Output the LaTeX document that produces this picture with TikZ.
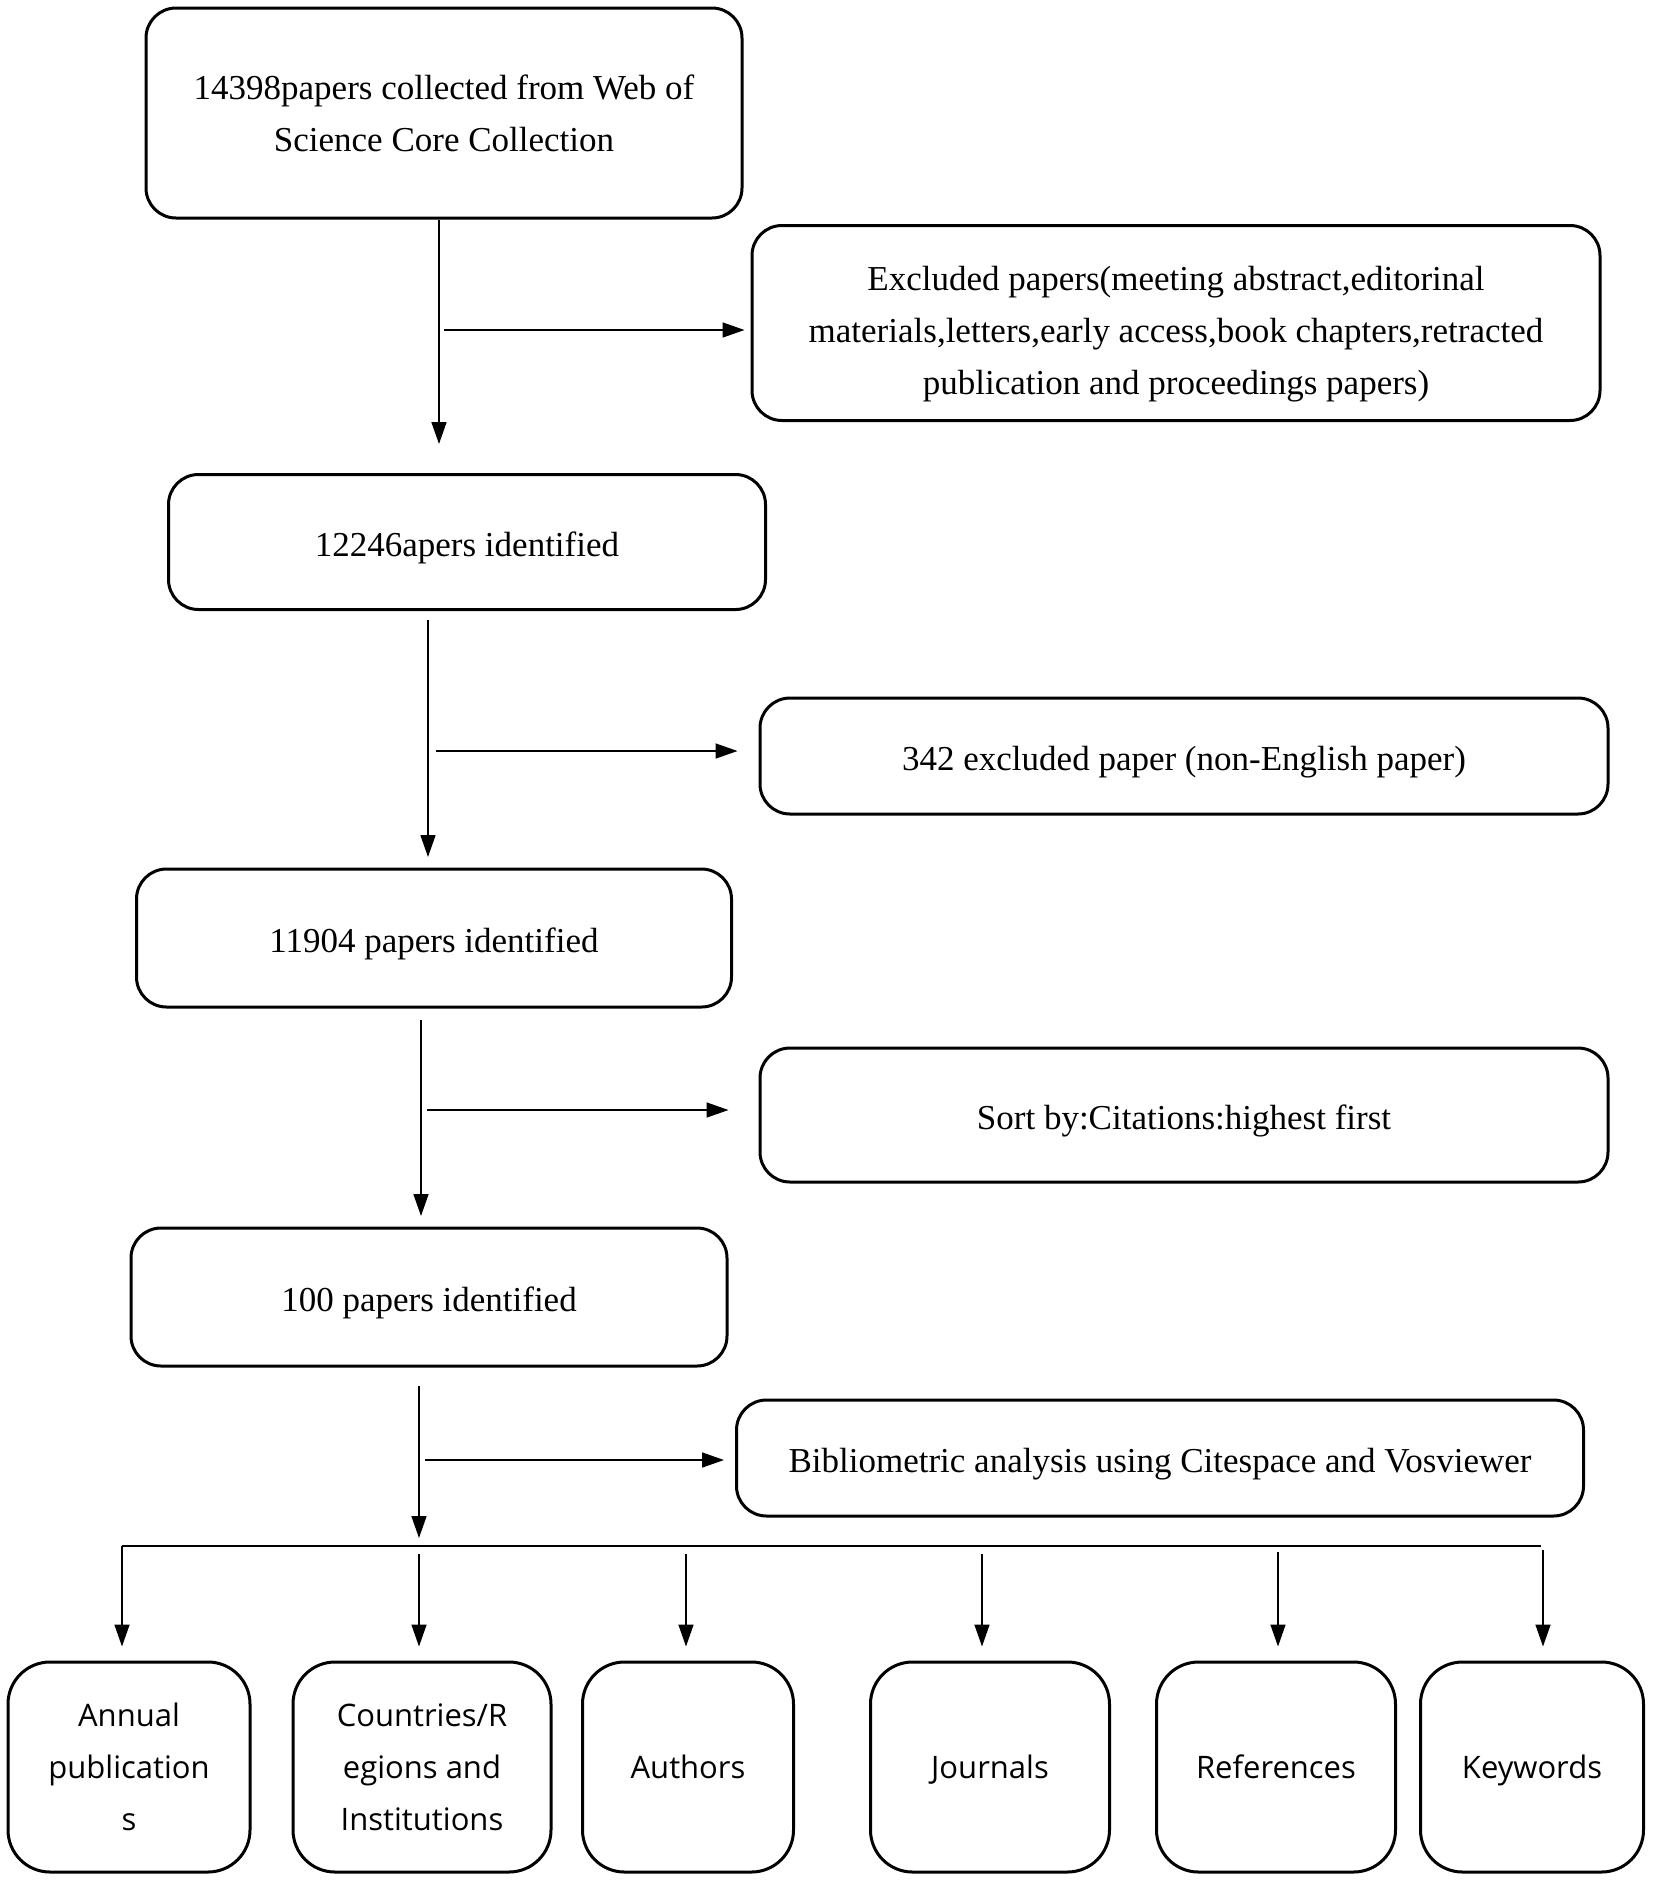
\documentclass[tikz,border=0pt]{standalone}
\usepackage{fontspec}
\setmainfont{Liberation Serif}
\newfontfamily\boxsans{Open Sans}
\usetikzlibrary{arrows.meta}

\tikzset{
  stepbox/.style={draw, line width=3pt, rounded corners=30pt, align=center, inner sep=0pt,
    font=\fontsize{35}{52}\selectfont},
  linebox/.style={stepbox, text height=36pt, text depth=8pt},
  itembox/.style={draw, line width=3pt, rounded corners=42pt, align=center, inner sep=0pt,
    minimum height=210pt, font=\boxsans\fontsize{31}{52}\selectfont},
  lineitem/.style={itembox, text height=26pt, text depth=4pt},
  flow/.style={line width=1.6pt, -{Triangle[length=22pt,width=15pt]}},
}

\begin{document}
\begin{tikzpicture}[x=1pt,y=1pt,yscale=-1,xscale=1]
      \useasboundingbox (0,0) rectangle (1654,1883);

      % Step boxes
      \node (collected) at (444,113) [stepbox, minimum width=596pt, minimum height=210pt] {14398papers collected from Web of\\Science Core Collection};
      \node (excluded) at (1176,323) [stepbox, minimum width=848pt, minimum height=195pt] {\rule{0pt}{46pt}Excluded papers(meeting abstract,editorinal\\materials,letters,early access,book chapters,retracted\\publication and proceedings papers)};
      \node (identA) at (467,542) [linebox, minimum width=597pt, minimum height=135pt] {12246apers identified};
      \node (nonenglish) at (1184,756) [linebox, minimum width=848pt, minimum height=116pt] {342 excluded paper (non-English paper)};
      \node (identB) at (434,938) [linebox, minimum width=595pt, minimum height=138pt] {11904 papers identified};
      \node (sortby) at (1184,1115) [linebox, minimum width=848pt, minimum height=134pt] {Sort by:Citations:highest first};
      \node (identC) at (429,1297) [linebox, minimum width=596pt, minimum height=138pt] {100 papers identified};
      \node (biblio) at (1160,1458) [linebox, minimum width=847pt, minimum height=116pt] {Bibliometric analysis using Citespace and Vosviewer};

      % Result boxes
      \node (annual) at (129,1767) [itembox, minimum width=242pt] {Annual\\publication\\s};
      \node (countries) at (422,1767) [itembox, minimum width=258pt] {Countries/R\\egions and\\Institutions};
      \node (authors) at (688,1767) [lineitem, minimum width=211pt] {Authors};
      \node (journals) at (990,1767) [lineitem, minimum width=239pt] {Journals};
      \node (references) at (1276,1767) [lineitem, minimum width=239pt] {References};
      \node (keywords) at (1532,1767) [lineitem, minimum width=223pt] {Keywords};

      % Points on the main line
      \coordinate (endA) at (439,444);
      \coordinate (sideA) at (444,330);
      \coordinate (endB) at (428,857);
      \coordinate (sideB) at (436,751);
      \coordinate (endC) at (421,1216);
      \coordinate (sideC) at (427,1110);
      \coordinate (endD) at (419,1538);
      \coordinate (sideD) at (425,1460);

      % Points on the branch line
      \coordinate (branchL) at (122,1546);
      \coordinate (branchR) at (1541,1546);
      \coordinate (toCountries) at (419,1554);
      \coordinate (toAuthors) at (686,1554);
      \coordinate (toJournals) at (982,1554);
      \coordinate (toReferences) at (1278,1552);
      \coordinate (toKeywords) at (1543,1550);

      %Straight Lines (main flow)
      \draw [flow] (collected.south -| endA) -- (endA);
      \draw [flow, shorten <=9pt] (identA.south -| endB) -- (endB);
      \draw [flow, shorten <=11pt] (identB.south -| endC) -- (endC);
      \draw [flow, shorten <=18pt] (identC.south -| endD) -- (endD);

      %Straight Lines (side arrows)
      \draw [flow, shorten >=6pt] (sideA) -- (sideA -| excluded.west);
      \draw [flow, shorten >=21pt] (sideB) -- (sideB -| nonenglish.west);
      \draw [flow, shorten >=30pt] (sideC) -- (sideC -| sortby.west);
      \draw [flow, shorten >=11pt] (sideD) -- (sideD -| biblio.west);

      %Straight Lines (branches)
      \draw [line width=1.6pt] (branchL) -- (branchR);
      \draw [flow, shorten >=14pt] (branchL) -- (branchL |- annual.north);
      \draw [flow, shorten >=14pt] (toCountries) -- (toCountries |- countries.north);
      \draw [flow, shorten >=14pt] (toAuthors) -- (toAuthors |- authors.north);
      \draw [flow, shorten >=14pt] (toJournals) -- (toJournals |- journals.north);
      \draw [flow, shorten >=14pt] (toReferences) -- (toReferences |- references.north);
      \draw [flow, shorten >=14pt] (toKeywords) -- (toKeywords |- keywords.north);
\end{tikzpicture}
\end{document}
